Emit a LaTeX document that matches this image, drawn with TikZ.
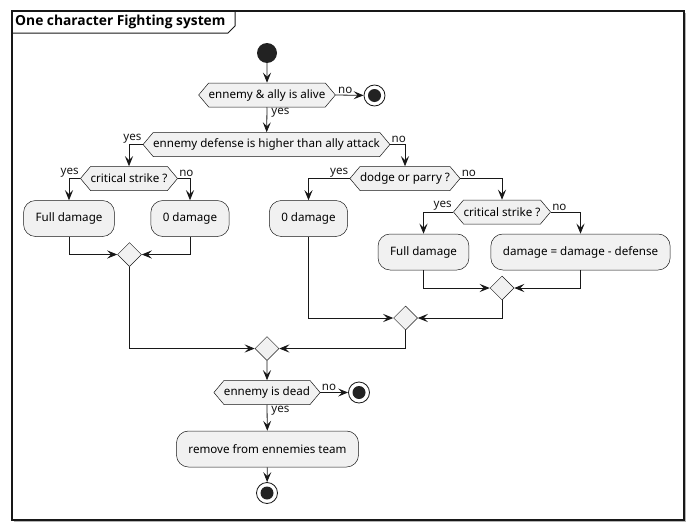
\documentclass[tikz,border=0pt]{standalone}
\usepackage{fontspec}
\setmainfont{Noto Sans}
\newfontfamily\titlefont{Open Sans}
\usetikzlibrary{arrows.meta,shapes.geometric,shapes.symbols}
\definecolor{umlline}{HTML}{181818}
\definecolor{umlfill}{HTML}{F1F1F1}
\definecolor{umldot}{HTML}{222222}
\definecolor{umlshade}{HTML}{B4B4B4}

\tikzset{
  txt/.style={font=\fontsize{11.6}{13.5}\selectfont},
  action/.style={txt,draw=umlline,fill=umlfill,rounded corners=12pt,
    minimum height=36pt,inner xsep=12pt,line width=0.5pt},
  choice/.style={txt,signal,signal to=west and east,signal pointer angle=100,
    draw=umlline,fill=umlfill,minimum height=24pt,inner xsep=0pt,line width=0.5pt},
  merge/.style={diamond,draw=umlline,fill=umlfill,minimum size=24pt,
    inner sep=0pt,line width=0.5pt},
  startdot/.style={circle,fill=umldot,minimum size=20pt,inner sep=0pt},
  stopdot/.style={circle,draw=umlline,fill=white,line width=0.8pt,
    minimum size=21pt,inner sep=0pt},
  flow/.style={-{Stealth[length=10pt,width=8pt,inset=4pt]},umlline,line width=0.8pt},
  lbl/.style={txt,inner sep=1pt}
}

\begin{document}
\begin{tikzpicture}[x=1pt,y=-1pt]
    \useasboundingbox (0,0) rectangle (694,530);
    % frame
    \draw[umlshade,line width=1pt] (13.5,521.5) -- (685.5,521.5) -- (685.5,12.5);
    \draw[umlline,line width=1.3pt] (12,11) rectangle (684,520);
    \draw[umlline,line width=1pt] (12,33) -- (228,33) -- (235,26) -- (235,11);
    \node[anchor=west,inner sep=0pt,font=\fontsize{13.8}{16}\titlefont\bfseries] (title) at (15,22) {One character Fighting system};

    % top
    \node[startdot] (start) at (267,53) {};
    \node[choice] (alive) at (267,95) {ennemy \& ally is alive};
    \node[stopdot] (stopA) at (374.5,95.5) {};
    \fill[umldot] (stopA.center) circle (6.5);
    \node[choice] (defense) at (266.5,144.5) {ennemy defense is higher than ally attack};

    % left branch
    \node[choice] (critL) at (129,178.5) {critical strike ?};
    \node[action] (fullL) at (69,218.5) {Full damage};
    \node[action] (zeroL) at (190,218.5) {0 damage};
    \node[merge] (mergeL) at (129.5,254.5) {};

    % right branch
    \node[choice] (dodge) at (405,178.5) {dodge or parry ?};
    \node[action] (zeroR) at (308.5,218.5) {0 damage};
    \node[choice] (critR) at (502,212) {critical strike ?};
    \node[action] (fullR) at (423.5,252) {Full damage};
    \node[action] (dmg) at (580.5,252) {damage = damage - defense};
    \node[merge] (mergeCrit) at (502,288) {};
    \node[merge] (mergeR) at (405.5,318) {};

    % bottom
    \node[merge] (mergeAll) at (267,348.5) {};
    \node[choice] (dead) at (267,392.5) {ennemy is dead};
    \node[stopdot] (stopB) at (359,392.5) {};
    \fill[umldot] (stopB.center) circle (6.5);
    \node[action] (remove) at (267.5,449) {remove from ennemies team};
    \node[stopdot] (stopC) at (267,493) {};
    \fill[umldot] (stopC.center) circle (6.5);

    % connectors
    \draw[flow] (start) -- (alive);
    \draw[flow] (alive.east) -- (stopA)
      node[lbl,at start,anchor=south west,xshift=1pt] {no};
    \draw[flow] (alive.south) -- (defense)
      node[lbl,at start,anchor=north west,xshift=3pt] {yes};
    \draw[flow] (defense.west) -| (critL.north)
      node[lbl,at start,anchor=south east] {yes};
    \draw[flow] (defense.east) -| (dodge.north)
      node[lbl,at start,anchor=south west] {no};

    \draw[flow] (critL.west) -| (fullL.north)
      node[lbl,at start,anchor=south east] {yes};
    \draw[flow] (critL.east) -| (zeroL.north)
      node[lbl,at start,anchor=south west] {no};
    \draw[flow] (fullL.south) |- (mergeL.west);
    \draw[flow] (zeroL.south) |- (mergeL.east);

    \draw[flow] (dodge.west) -| (zeroR.north)
      node[lbl,at start,anchor=south east] {yes};
    \draw[flow] (dodge.east) -| (critR.north)
      node[lbl,at start,anchor=south west] {no};
    \draw[flow] (critR.west) -| (fullR.north)
      node[lbl,at start,anchor=south east] {yes};
    \draw[flow] (critR.east) -| (dmg.north)
      node[lbl,at start,anchor=south west] {no};
    \draw[flow] (fullR.south) |- (mergeCrit.west);
    \draw[flow] (dmg.south) |- (mergeCrit.east);
    \draw[flow] (zeroR.south) |- (mergeR.west);
    \draw[flow] (mergeCrit.south) |- (mergeR.east);

    \draw[flow] (mergeL.south) |- (mergeAll.west);
    \draw[flow] (mergeR.south) |- (mergeAll.east);
    \draw[flow] (mergeAll) -- (dead);
    \draw[flow] (dead.east) -- (stopB)
      node[lbl,at start,anchor=south west] {no};
    \draw[flow] (dead.south) -- (remove)
      node[lbl,at start,anchor=north west,xshift=3pt] {yes};
    \draw[flow] (remove) -- (stopC);
\end{tikzpicture}
\end{document}
